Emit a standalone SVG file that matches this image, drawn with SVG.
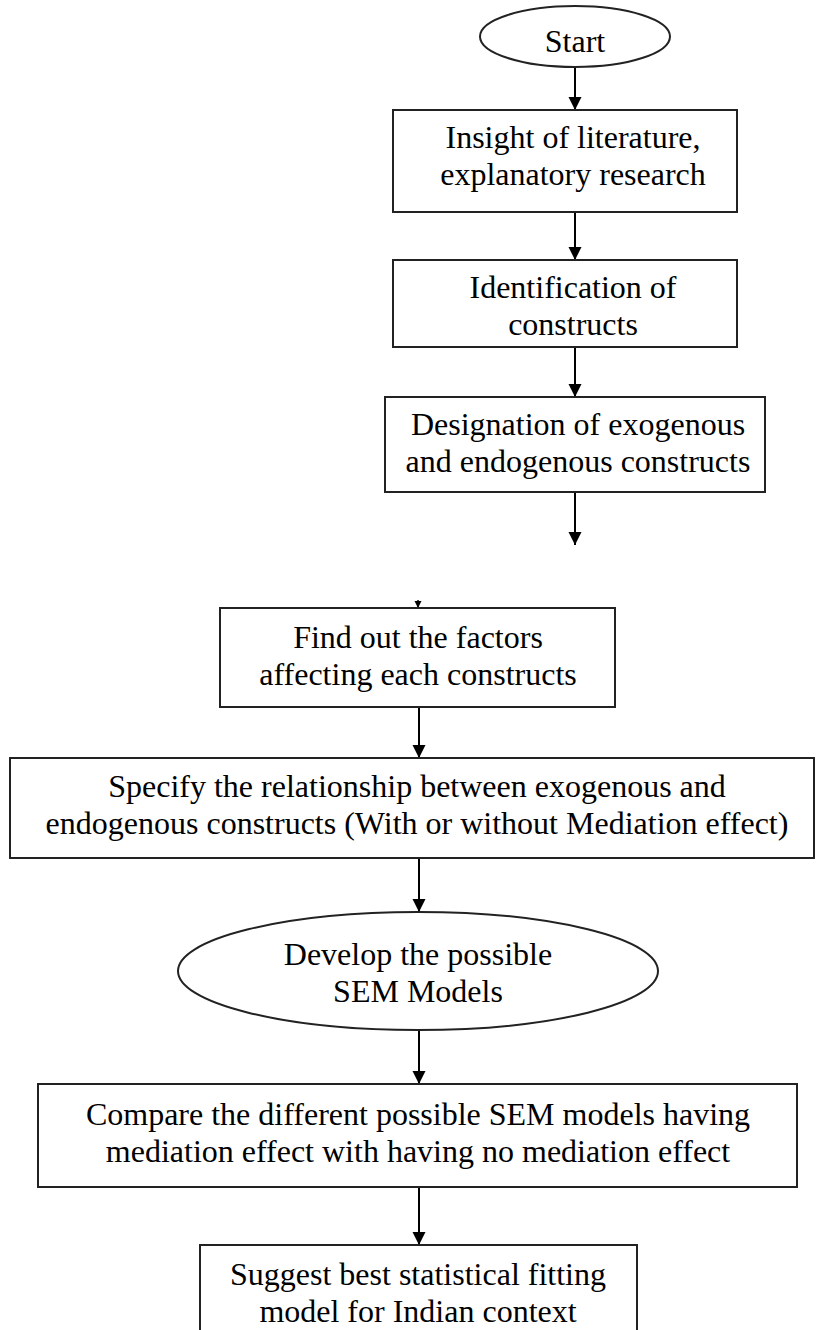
<svg xmlns="http://www.w3.org/2000/svg" width="816" height="1330" viewBox="0 0 816 1330">
<defs>
<marker id="ah" markerUnits="userSpaceOnUse" markerWidth="14" markerHeight="14" viewBox="0 0 14 14" refX="13" refY="7" orient="auto">
<path d="M0,0.5 L13,7 L0,13.5 Z" fill="#000"/>
</marker>
<marker id="ahs" markerUnits="userSpaceOnUse" markerWidth="8" markerHeight="8" viewBox="0 0 8 8" refX="7" refY="4" orient="auto">
<path d="M0,0.5 L7,4 L0,7.5 Z" fill="#000"/>
</marker>
<style>
.n{fill:#fff;stroke:#222;stroke-width:2}
.t{font-size:32px;fill:#000;text-anchor:middle}
.c{stroke:#000;stroke-width:2;fill:none;marker-end:url(#ah)}
</style>
</defs>
<rect width="816" height="1330" fill="#fff"/>
<g id="connectors">
<line class="c" x1="575" y1="67" x2="575" y2="110"/>
<line class="c" x1="575" y1="212" x2="575" y2="260"/>
<line class="c" x1="575" y1="347" x2="575" y2="397"/>
<line class="c" x1="575" y1="492" x2="575" y2="545"/>
<line x1="418" y1="600" x2="418" y2="608" stroke="#000" stroke-width="1.5" marker-end="url(#ahs)"/>
<line class="c" x1="419" y1="707" x2="419" y2="758"/>
<line class="c" x1="419" y1="858" x2="419" y2="912"/>
<line class="c" x1="419" y1="1030" x2="419" y2="1084"/>
<line class="c" x1="419" y1="1187" x2="419" y2="1245"/>
</g>
<g font-family="'Liberation Serif', serif">
<g id="start">
<ellipse class="n" cx="575" cy="36.5" rx="95" ry="30.5"/>
<text class="t" x="575" y="52">Start</text>
</g>
<g id="insight">
<rect class="n" x="393" y="110" width="344" height="102"/>
<text class="t" x="573" y="148">Insight of literature,</text>
<text class="t" x="573" y="185">explanatory research</text>
</g>
<g id="identification">
<rect class="n" x="393" y="260" width="344" height="87"/>
<text class="t" x="573" y="298">Identification of</text>
<text class="t" x="573" y="335">constructs</text>
</g>
<g id="designation">
<rect class="n" x="385" y="397" width="380" height="95"/>
<text class="t" x="578" y="435">Designation of exogenous</text>
<text class="t" x="578" y="472">and endogenous constructs</text>
</g>
<g id="factors">
<rect class="n" x="220" y="608" width="395" height="99"/>
<text class="t" x="418" y="648">Find out the factors</text>
<text class="t" x="418" y="685">affecting each constructs</text>
</g>
<g id="specify">
<rect class="n" x="10" y="758" width="804" height="100"/>
<text class="t" x="417" y="797">Specify the relationship between exogenous and</text>
<text class="t" x="417" y="834">endogenous constructs (With or without Mediation effect)</text>
</g>
<g id="develop">
<ellipse class="n" cx="418" cy="971" rx="240" ry="59"/>
<text class="t" x="418" y="965">Develop the possible</text>
<text class="t" x="418" y="1002">SEM Models</text>
</g>
<g id="compare">
<rect class="n" x="38" y="1084" width="759" height="103"/>
<text class="t" x="418" y="1125">Compare the different possible SEM models having</text>
<text class="t" x="418" y="1162">mediation effect with having no mediation effect</text>
</g>
<g id="suggest">
<rect class="n" x="200" y="1245" width="437" height="100"/>
<text class="t" x="418" y="1285">Suggest best statistical fitting</text>
<text class="t" x="418" y="1322">model for Indian context</text>
</g>
</g>
</svg>
